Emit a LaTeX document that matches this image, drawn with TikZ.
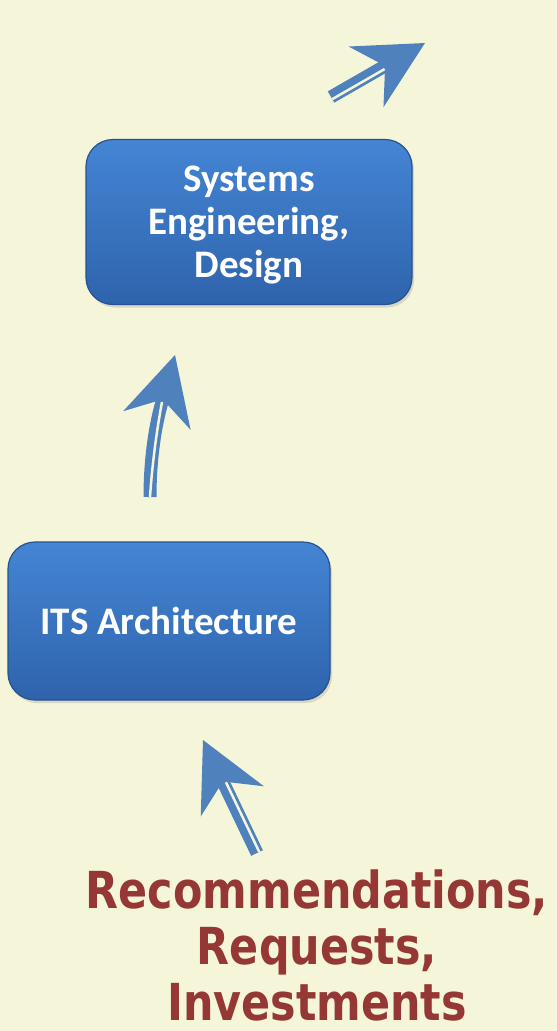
\documentclass[tikz,border=0pt]{standalone}
\usepackage{fontspec}
\usepackage{tikz}
\usetikzlibrary{arrows.meta,calc,shadows}
\newfontfamily\boxfont{Carlito}
\newfontfamily\notefont[FakeStretch=0.84]{DejaVu Sans}
\definecolor{paper}{RGB}{245,245,218}
\definecolor{arrowblue}{RGB}{79,129,189}
\definecolor{boxtop}{RGB}{68,133,212}
\definecolor{boxbot}{RGB}{47,99,172}
\definecolor{boxedge}{RGB}{38,82,146}
\definecolor{notered}{RGB}{149,55,53}

\begin{document}
\begin{tikzpicture}[x=1pt,y=-1pt]
        \tikzstyle{stagebox} = [rectangle,rounded corners=27pt,draw=boxedge,line width=1.2pt,
          top color=boxtop,bottom color=boxbot,text=white,align=center,inner sep=0pt,
          font=\boxfont\bfseries\fontsize{39}{43}\selectfont,
          drop shadow={opacity=0.25,shadow xshift=2pt,shadow yshift=-3pt}]
        \tikzstyle{flow} = [arrowblue,line width=13pt,
          -{Stealth[length=68pt,width=70pt,inset=22pt,line width=0pt]}]
        \tikzstyle{gap} = [paper,line width=2.5pt]
        \fill[paper] (0,0) rectangle (557,1031);
        \node[stagebox,minimum width=326pt,minimum height=165pt] (syseng) at (249,222)
          {\raisebox{-4pt}[\height][\depth]{\begin{tabular}{@{}c@{}}Systems\\Engineering,\\Design\end{tabular}}};
        \node[stagebox,minimum width=322pt,minimum height=158pt] (its) at (169,621)
          {ITS Architecture};
        \node[text=notered,align=center,font=\notefont\bfseries\fontsize{51}{56}\selectfont]
          (inputs) at (317,945) {Recommendations,\\Requests,\\Investments};
        \coordinate (low tail) at (257,853);
        \coordinate (low tip) at (203,740);
        \coordinate (mid tail) at (150,497);
        \coordinate (mid notch) at (162,402);
        \coordinate (mid tip) at (175,355);
        \coordinate (top tail) at (331,97);
        \coordinate (top tip) at (425,43);
        \coordinate (low notch) at ($(low tip)!48pt!(low tail)$);
        \coordinate (top notch) at ($(top tip)!48pt!(top tail)$);
        \draw [flow] (low tail) -- (low tip);
        \draw [gap] ($(low tail)!2.5pt!-90:(low tip)$) -- ($(low notch)!2.5pt!90:(low tail)$);
        \draw [flow] (mid tail) .. controls (150,460) and (155,426) .. (mid notch) -- (mid tip);
        \draw [gap,xshift=2.5pt] (mid tail) .. controls (150,460) and (155,426) .. (mid notch);
        \draw [flow] (top tail) -- (top tip);
        \draw [gap] ($(top tail)!2.5pt!-90:(top tip)$) -- ($(top notch)!2.5pt!90:(top tail)$);
      \end{tikzpicture}
\end{document}
